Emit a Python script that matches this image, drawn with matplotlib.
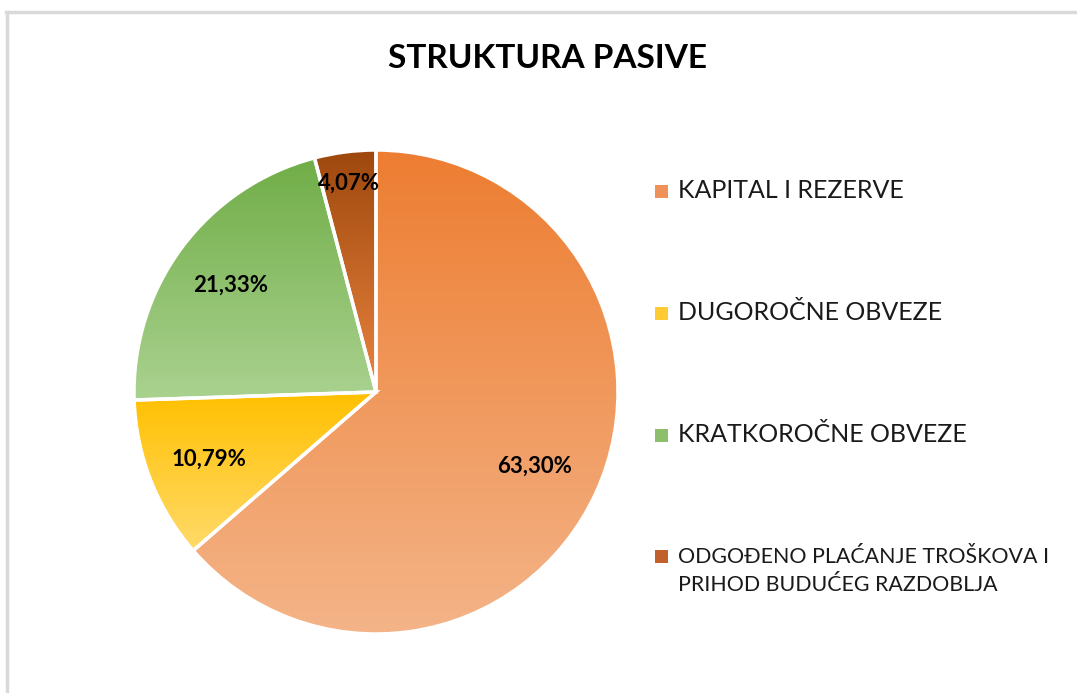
import numpy as np
import matplotlib
matplotlib.use("Agg")
import matplotlib.pyplot as plt
from matplotlib.colors import LinearSegmentedColormap
from matplotlib.patches import Rectangle
from matplotlib.lines import Line2D

plt.rcParams['font.family'] = ['Lato', 'DejaVu Sans']

# data
categories = ["KAPITAL I REZERVE", "DUGOROČNE OBVEZE", "KRATKOROČNE OBVEZE",
              "ODGOĐENO PLAĆANJE TROŠKOVA I\nPRIHOD BUDUĆEG RAZDOBLJA"]
shares = [63.30, 10.79, 21.33, 4.07]
label_text = ["63,30%", "10,79%", "21,33%", "4,07%"]

# gradient colours (top -> bottom of each slice)
top_colors = ["#ED7D31", "#FFC000", "#70AD47", "#9E480E"]
bottom_colors = ["#F4B488", "#FFDA6A", "#AAD290", "#EA843E"]
legend_colors = ["#F0915A", "#FFCB33", "#8CBF6B", "#C0602A"]
label_dist = [0.72, 0.74, 0.75, 0.88]

# legend layout (pixels from top of the image)
legend_y = [191, 313, 435, 571]
legend_marker_y = [191, 313, 435, 556]
legend_size = [18, 18, 18, 15.4]

W, H = 1077, 693
fig = plt.figure(figsize=(W / 100, H / 100), dpi=100)

# frame lines (only top and left visible in the original)
fig.add_artist(Line2D([6 / W, 1], [1 - 12 / H, 1 - 12 / H], color="#d9d9d9", lw=2.5))
fig.add_artist(Line2D([7 / W, 7 / W], [0, 1 - 12 / H], color="#d9d9d9", lw=2.5))

cx, cy, r = 376, 392, 242
ax = fig.add_axes([(cx - r) / W, (H - cy - r) / H, 2 * r / W, 2 * r / H])

wedges, _ = ax.pie(shares, startangle=90, counterclock=False, radius=1,
                   wedgeprops=dict(edgecolor="white", linewidth=2.5))

grad = np.linspace(0, 1, 256).reshape(-1, 1)
for w, c_top, c_bot in zip(wedges, top_colors, bottom_colors):
    ext = w.get_path().get_extents()
    cmap = LinearSegmentedColormap.from_list("g", [c_bot, c_top])
    im = ax.imshow(grad, cmap=cmap, origin="lower", aspect="auto",
                   extent=(ext.x0, ext.x1, ext.y0, ext.y1),
                   interpolation="bilinear", zorder=1)
    im.set_clip_path(w)
    w.set_facecolor("none")
    w.set_zorder(2)

for w, txt, d in zip(wedges, label_text, label_dist):
    ang = np.deg2rad((w.theta1 + w.theta2) / 2)
    ax.text(d * np.cos(ang), d * np.sin(ang), txt, ha="center", va="center_baseline",
            fontsize=16, fontweight="bold", color="black", zorder=3)

ax.set_xlim(-1, 1)
ax.set_ylim(-1, 1)
ax.set_aspect("equal")
ax.axis("off")

fig.text(548 / W, 1 - 58 / H, "STRUKTURA PASIVE", ha="center", va="center",
         fontsize=24, fontweight="bold", color="black")

# legend
for name, col, ty, my, fs in zip(categories, legend_colors, legend_y,
                                  legend_marker_y, legend_size):
    fig.add_artist(Rectangle((655 / W, 1 - (my + 6.5) / H), 13 / W, 13 / H,
                             transform=fig.transFigure, facecolor=col,
                             edgecolor="none"))
    fig.text(678 / W, 1 - ty / H, name, ha="left", va="center",
             fontsize=fs, linespacing=1.5, color="#1a1a1a")

fig.savefig("out.png", dpi=100)
